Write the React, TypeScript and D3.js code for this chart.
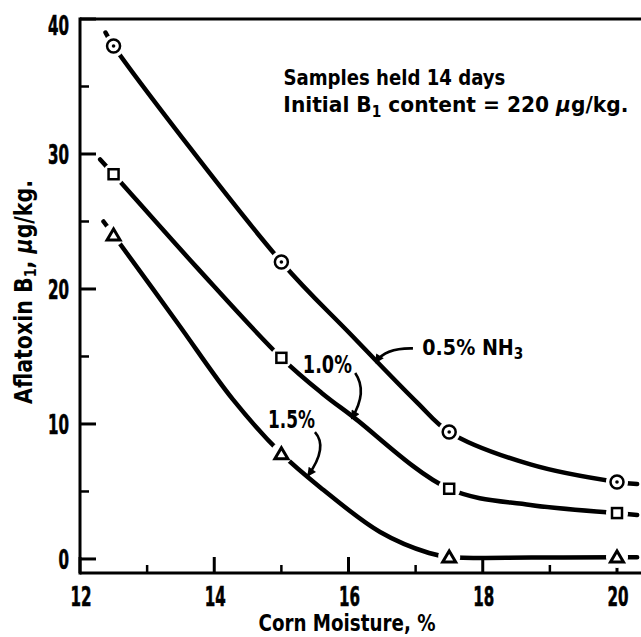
import React from "react";
import * as d3 from "d3";

const W = 641;
const H = 637;
const FF = "'Liberation Sans Narrow','Arial Narrow','DejaVu Sans Condensed',sans-serif";

// Axis ticks
const xTicksMajor = [12, 14, 16, 18, 20];
const xTicksMinor = [13, 15, 17, 19];
const yTicksMajor = [0, 10, 20, 30, 40];
const yTicksMinor = [5, 15, 25, 35];

// Measured points (corn moisture %, aflatoxin B1 µg/kg)
const moisture = [12.5, 15, 17.5, 20];
const nh3_05 = [38, 22, 9.4, 5.7];
const nh3_10 = [28.5, 14.9, 5.2, 3.4];
const nh3_15 = [24, 7.8, 0.15, 0.15];

// Hand-drawn fitted curves
const curve05: [number, number][] = [
  [12.38, 39.0], [12.5, 38.0], [15, 22.0], [16.02, 16.7], [17.02, 11.6],
  [17.5, 9.4], [18.71, 7.0], [20, 5.7], [20.3, 5.55],
];
const curve10: [number, number][] = [
  [12.3, 29.6], [12.5, 28.5], [13.74, 21.6], [15, 14.9], [15.6, 12.3],
  [16.05, 10.6], [17.5, 5.2], [18.71, 4.0], [20, 3.4], [20.3, 3.26],
];
const curve15: [number, number][] = [
  [12.35, 25.0], [12.5, 24.0], [13.45, 17.5], [14.28, 11.8], [15, 7.8],
  [15.58, 5.3], [16.47, 2.0], [17.2, 0.44], [17.5, 0.15], [18.75, 0.1],
  [20, 0.12], [20.3, 0.12],
];

// Label arrows: start, control, tip (data units)
const arrow05: [number, number][] = [[16.96, 15.6], [16.55, 15.65], [16.41, 14.6]];
const arrow10: [number, number][] = [[16.1, 13.78], [16.29, 12.4], [16.05, 10.44]];
const arrow15: [number, number][] = [[15.5, 9.4], [15.7, 8.3], [15.4, 6.2]];

type Kind = "circle" | "square" | "triangle";
const series: { name: string; values: number[]; curve: [number, number][]; kind: Kind }[] = [
  { name: "0.5% NH3", values: nh3_05, curve: curve05, kind: "circle" },
  { name: "1.0%", values: nh3_10, curve: curve10, kind: "square" },
  { name: "1.5%", values: nh3_15, curve: curve15, kind: "triangle" },
];

const x = d3.scaleLinear().domain([12, 20]).range([80, 617]);
const y = d3.scaleLinear().domain([-1.04, 40]).range([573, 19]);

const lineGen = d3
  .line<[number, number]>()
  .x((d) => x(d[0]))
  .y((d) => y(d[1]))
  .curve(d3.curveCatmullRom.alpha(0.5));

function arrowPath(a: [number, number][]) {
  const p = d3.path();
  p.moveTo(x(a[0][0]), y(a[0][1]));
  p.quadraticCurveTo(x(a[1][0]), y(a[1][1]), x(a[2][0]), y(a[2][1]));
  return p.toString();
}

function Marker({ kind, cx, cy }: { kind: Kind; cx: number; cy: number }) {
  const halo = <circle cx={cx} cy={cy} r={11} fill="white" />;
  if (kind === "circle") {
    return (
      <g>
        {halo}
        <circle cx={cx} cy={cy} r={6.5} fill="white" stroke="black" strokeWidth={2.5} />
        <circle cx={cx} cy={cy} r={1.8} fill="black" />
      </g>
    );
  }
  if (kind === "square") {
    return (
      <g>
        {halo}
        <rect x={cx - 5} y={cy - 5} width={10} height={10} fill="white" stroke="black" strokeWidth={2.5} />
      </g>
    );
  }
  return (
    <g>
      {halo}
      <path
        d={`M${cx - 6.5},${cy + 5}L${cx + 6.5},${cy + 5}L${cx},${cy - 6}Z`}
        fill="white"
        stroke="black"
        strokeWidth={3}
        strokeLinejoin="miter"
      />
    </g>
  );
}

export default function App() {
  const x0 = x(12);
  const yBottom = y(-1.04);
  const yTop = y(40);
  return (
    <svg
      width={W}
      height={H}
      viewBox={`0 0 ${W} ${H}`}
      style={{ position: "absolute", left: 0, top: 0, background: "white" }}
      fontFamily={FF}
      fontWeight="bold"
    >
      <defs>
        <marker
          id="ah"
          viewBox="0 0 10 10"
          refX={8}
          refY={5}
          markerWidth={11}
          markerHeight={9}
          markerUnits="userSpaceOnUse"
          orient="auto"
        >
          <path d="M0,0L10,5L0,10Z" fill="black" />
        </marker>
      </defs>
      <rect width={W} height={H} fill="white" />

      {/* frame */}
      <line x1={x0} y1={yTop} x2={W} y2={yTop} stroke="black" strokeWidth={3} />
      <line x1={x0} y1={yTop - 1.5} x2={x0} y2={yBottom + 1.5} stroke="black" strokeWidth={3} />
      <line x1={x0} y1={yBottom} x2={W} y2={yBottom} stroke="black" strokeWidth={3} />

      {/* y ticks */}
      {yTicksMajor.map((t) => (
        <g key={"ym" + t}>
          <line x1={x0} x2={x0 + 16} y1={y(t)} y2={y(t)} stroke="black" strokeWidth={3} />
          <text
            x={69}
            y={t === 40 ? y(t) + 6 : y(t)}
            dy="0.36em"
            textAnchor="end"
            fontSize={27}
            stroke="black"
            strokeWidth={0.6}
            textLength={String(t).length * 10.5}
            lengthAdjust="spacingAndGlyphs"
          >
            {t}
          </text>
        </g>
      ))}
      {yTicksMinor.map((t) => (
        <line key={"yn" + t} x1={x0} x2={x0 + 9} y1={y(t)} y2={y(t)} stroke="black" strokeWidth={2.5} />
      ))}

      {/* x ticks */}
      {xTicksMajor.map((t) => (
        <g key={"xm" + t}>
          <line x1={x(t)} x2={x(t)} y1={yBottom} y2={yBottom - 16} stroke="black" strokeWidth={3} />
          <text
            x={x(t) + 1}
            y={606}
            textAnchor="middle"
            fontSize={27}
            stroke="black"
            strokeWidth={0.6}
            textLength={String(t).length * 10.5}
            lengthAdjust="spacingAndGlyphs"
          >
            {t}
          </text>
        </g>
      ))}
      {xTicksMinor.map((t) => (
        <line key={"xn" + t} x1={x(t)} x2={x(t)} y1={yBottom} y2={yBottom - 8} stroke="black" strokeWidth={2.5} />
      ))}

      {/* axis titles */}
      <text x={347} y={631} textAnchor="middle" fontSize={23} textLength={177} lengthAdjust="spacingAndGlyphs">
        Corn Moisture, %
      </text>
      <text
        transform="translate(32,292) rotate(-90)"
        textAnchor="middle"
        fontSize={24}
        textLength={224}
        lengthAdjust="spacingAndGlyphs"
      >
        Aflatoxin B<tspan fontSize={15} dy={4}>1</tspan>
        <tspan dy={-4}>, </tspan>
        <tspan fontStyle="italic">μ</tspan>g/kg.
      </text>

      {/* curves */}
      {series.map((s) => (
        <path
          key={"c" + s.name}
          d={lineGen(s.curve) || ""}
          fill="none"
          stroke="black"
          strokeWidth={4.5}
          strokeLinecap="round"
          strokeLinejoin="round"
        />
      ))}

      {/* markers */}
      {series.map((s) =>
        s.values.map((v, i) => (
          <Marker key={s.name + i} kind={s.kind} cx={x(moisture[i])} cy={y(v)} />
        ))
      )}

      {/* label arrows */}
      {[arrow05, arrow10, arrow15].map((a, i) => (
        <path key={"a" + i} d={arrowPath(a)} fill="none" stroke="black" strokeWidth={2.6} markerEnd="url(#ah)" />
      ))}

      {/* series labels */}
      <text x={x(17.1)} y={y(15.1)} fontSize={21} textLength={101} lengthAdjust="spacingAndGlyphs">
        0.5% NH<tspan fontSize={15} dy={4}>3</tspan>
      </text>
      <text x={x(15.32)} y={y(13.8)} fontSize={25} textLength={49} lengthAdjust="spacingAndGlyphs">
        1.0%
      </text>
      <text x={x(14.8)} y={y(9.7)} fontSize={25} textLength={47} lengthAdjust="spacingAndGlyphs">
        1.5%
      </text>

      {/* note */}
      <text x={x(15.03)} y={y(35.1)} fontSize={22} textLength={222} lengthAdjust="spacingAndGlyphs">
        Samples held 14 days
      </text>
      <text x={x(15.03)} y={y(33.1)} fontSize={22} textLength={345} lengthAdjust="spacingAndGlyphs">
        Initial B<tspan fontSize={15} dy={5}>1</tspan>
        <tspan dy={-5}> content = 220 </tspan>
        <tspan fontStyle="italic">μ</tspan>g/kg.
      </text>
    </svg>
  );
}
